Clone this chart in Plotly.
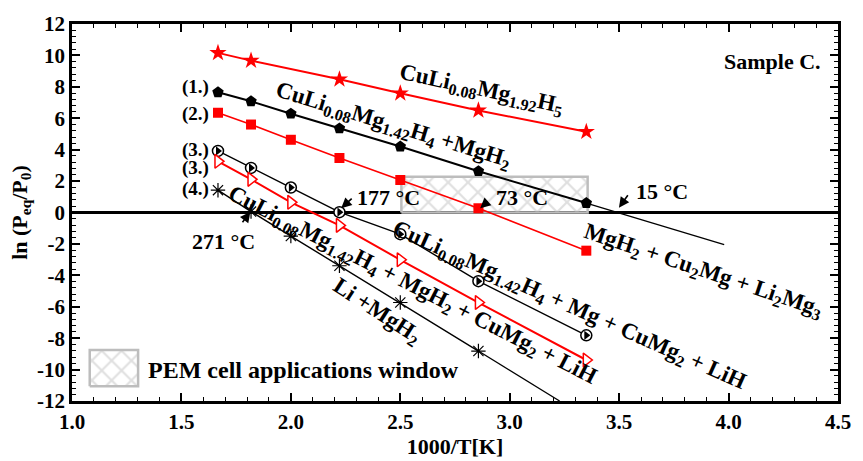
import plotly.graph_objects as go

# ---------------- data ----------------
x_star = [1.667, 1.818, 2.222, 2.500, 2.857, 3.350]
y_star = [10.16, 9.67, 8.48, 7.59, 6.50, 5.14]

x_pent = [1.667, 1.818, 2.000, 2.222, 2.500, 2.857, 3.350]
y_pent = [7.65, 7.08, 6.29, 5.35, 4.20, 2.63, 0.60]
x_pent_ext = [3.350, 3.980]
y_pent_ext = [0.60, -2.05]

x_sq = [1.667, 1.818, 2.000, 2.222, 2.500, 2.857, 3.350]
y_sq = [6.35, 5.60, 4.63, 3.47, 2.07, 0.27, -2.43]

x_circ = [1.667, 1.818, 2.000, 2.222, 2.500, 2.857, 3.350]
y_circ = [3.92, 2.84, 1.59, 0.02, -1.38, -4.37, -7.82]

x_tri = [1.667, 1.818, 2.000, 2.222, 2.500, 2.857, 3.350]
y_tri = [3.26, 2.11, 0.65, -0.82, -3.01, -5.73, -9.39]

x_ast = [1.667, 1.818, 2.000, 2.222, 2.500, 2.857]
y_ast = [1.42, 0.06, -1.50, -3.39, -5.73, -8.82]
x_ast_ext = [2.857, 3.228]
y_ast_ext = [-8.82, -12.0]

# PEM window (x range, y range)
pem_x = [2.505, 3.356]
pem_y = [0.0, 2.27]

x_ticks = [1.0, 1.5, 2.0, 2.5, 3.0, 3.5, 4.0, 4.5]
y_ticks = [-12, -10, -8, -6, -4, -2, 0, 2, 4, 6, 8, 10, 12]

RED = "#ff0000"
FONT = "Liberation Serif"

fig = go.Figure()

def rect(xr, yr):
    return [xr[0], xr[1], xr[1], xr[0], xr[0]], [yr[0], yr[0], yr[1], yr[1], yr[0]]

hatch = dict(shape="x", fgcolor="#c0c0c0", bgcolor="rgba(255,255,255,0)", size=14, solidity=0.28)

# PEM window hatch
hx, hy = rect(pem_x, pem_y)
fig.add_trace(go.Scatter(x=hx, y=hy, mode="lines", fill="toself",
                         line=dict(color="#bdbdbd", width=2.5),
                         fillcolor="rgba(0,0,0,0)", fillpattern=hatch,
                         showlegend=False, hoverinfo="skip"))
# legend hatch box
lx, ly = rect([1.081, 1.302], [-11.06, -8.76])
fig.add_trace(go.Scatter(x=lx, y=ly, mode="lines", fill="toself",
                         line=dict(color="#bdbdbd", width=2.5),
                         fillcolor="rgba(0,0,0,0)", fillpattern=hatch,
                         showlegend=False, hoverinfo="skip"))

# extension lines
fig.add_trace(go.Scatter(x=x_pent_ext, y=y_pent_ext, mode="lines",
                         line=dict(color="black", width=1.3), showlegend=False))
fig.add_trace(go.Scatter(x=x_ast_ext, y=y_ast_ext, mode="lines",
                         line=dict(color="black", width=1.3), showlegend=False))

fig.add_trace(go.Scatter(x=x_star, y=y_star, mode="lines+markers",
                         line=dict(color=RED, width=2),
                         marker=dict(symbol="star", size=13, color=RED), showlegend=False))
fig.add_trace(go.Scatter(x=x_pent, y=y_pent, mode="lines+markers",
                         line=dict(color="black", width=2),
                         marker=dict(symbol="pentagon", size=12, color="black"), showlegend=False))
fig.add_trace(go.Scatter(x=x_sq, y=y_sq, mode="lines+markers",
                         line=dict(color=RED, width=1.6),
                         marker=dict(symbol="square", size=10, color=RED), showlegend=False))
fig.add_trace(go.Scatter(x=x_circ, y=y_circ, mode="lines+markers",
                         line=dict(color="black", width=1.4),
                         marker=dict(symbol="circle", size=11, color="white",
                                     line=dict(color="black", width=1.5)), showlegend=False))
fig.add_trace(go.Scatter(x=x_circ, y=y_circ, mode="markers",
                         marker=dict(symbol="triangle-right", size=8, color="black"),
                         showlegend=False, hoverinfo="skip"))
fig.add_trace(go.Scatter(x=x_tri, y=y_tri, mode="lines+markers",
                         line=dict(color=RED, width=2),
                         marker=dict(symbol="triangle-right", size=12, color="white",
                                     line=dict(color=RED, width=1.5)), showlegend=False))
fig.add_trace(go.Scatter(x=x_ast, y=y_ast, mode="lines+markers",
                         line=dict(color="black", width=1.4),
                         marker=dict(symbol="asterisk-open", size=12,
                                     line=dict(color="black", width=1.2)), showlegend=False))

anns = []

def txt(x, y, s, angle=0, size=20, xanchor="center"):
    anns.append(dict(x=x, y=y, xref="x", yref="y", text="<b>" + s + "</b>", showarrow=False,
                     textangle=angle, xanchor=xanchor, yanchor="middle",
                     font=dict(family=FONT, size=size, color="black")))

def arrow(x, y, ax, ay):
    anns.append(dict(x=x, y=y, xref="x", yref="y", text="", showarrow=True,
                     ax=ax, ay=ay, arrowhead=2, arrowsize=1.3, arrowwidth=1.6,
                     arrowcolor="black", standoff=0))

LS = 23
txt(2.870, 7.79, "CuLi<sub>0.08</sub>Mg<sub>1.92</sub>H<sub>5</sub>", 12, LS)
txt(2.470, 5.53, "CuLi<sub>0.08</sub>Mg<sub>1.42</sub>H<sub>4</sub> +MgH<sub>2</sub>", 17, LS)
txt(3.882, -3.75, "MgH<sub>2</sub> + Cu<sub>2</sub>Mg + Li<sub>2</sub>Mg<sub>3</sub>", 18.5, LS)
txt(3.270, -5.95, "CuLi<sub>0.08</sub>Mg<sub>1.42</sub>H<sub>4</sub> + Mg + CuMg<sub>2</sub> + LiH", 24, LS)
txt(2.555, -4.70, "CuLi<sub>0.08</sub>Mg<sub>1.42</sub>H<sub>4</sub> + MgH<sub>2</sub> + CuMg<sub>2</sub> + LiH", 27, LS)
txt(2.395, -6.31, "Li +MgH<sub>2</sub>", 33, LS)
txt(4.199, 9.61, "Sample C.", 0, 22)

for yy, lab in [(7.98, "(1.)"), (6.29, "(2.)"), (3.98, "(3.)"), (2.85, "(3.)"), (1.47, "(4.)")]:
    txt(1.565, yy, lab, 0, 19)

txt(2.448, 0.95, "177 °C", 0, 22)
txt(3.057, 0.95, "73 °C", 0, 22)
txt(3.697, 1.34, "15 °C", 0, 22)
txt(1.691, -1.85, "271 °C", 0, 22)
txt(1.338, -10.0, "PEM cell applications window", 0, 24, xanchor="left")

arrow(2.230, 0.27, 12, -11)
arrow(2.865, 0.27, 9, -8)
arrow(3.499, 0.30, 10, -14)
arrow(1.815, 0.05, -9, 12)

fig.update_layout(
    width=863, height=461,
    margin=dict(l=72, r=14, t=24, b=54),
    paper_bgcolor="white", plot_bgcolor="white",
    annotations=anns,
    font=dict(family=FONT, color="black"),
    showlegend=False,
)

fig.update_xaxes(range=[1.0, 4.5], tickvals=x_ticks, ticktext=["%.1f" % v for v in x_ticks],
                 ticks="inside", ticklen=8, tickwidth=1.5, tickcolor="black",
                 minor=dict(dtick=0.1, ticks="inside", ticklen=4, tickwidth=1.2, tickcolor="black"),
                 showline=True, linecolor="black", linewidth=2.5, mirror="allticks",
                 showgrid=False, zeroline=False,
                 tickfont=dict(family=FONT, size=21, color="black", weight="bold"),
                 title=dict(text="<b>1000/T[K]</b>", standoff=0,
                            font=dict(family=FONT, size=22, color="black")))
fig.update_yaxes(range=[-12, 12], tickvals=y_ticks, ticktext=[str(v) for v in y_ticks],
                 ticks="inside", ticklen=8, tickwidth=1.5, tickcolor="black",
                 minor=dict(dtick=0.4, ticks="inside", ticklen=4, tickwidth=1.2, tickcolor="black"),
                 showline=True, linecolor="black", linewidth=2.5, mirror="allticks",
                 showgrid=False, zeroline=True, zerolinecolor="black", zerolinewidth=2.5,
                 tickfont=dict(family=FONT, size=21, color="black", weight="bold"),
                 title=dict(text="<b>ln (P<sub>eq</sub>/P<sub>0</sub>)</b>", standoff=4,
                            font=dict(family=FONT, size=22, color="black")))

fig.write_html("out.html")
